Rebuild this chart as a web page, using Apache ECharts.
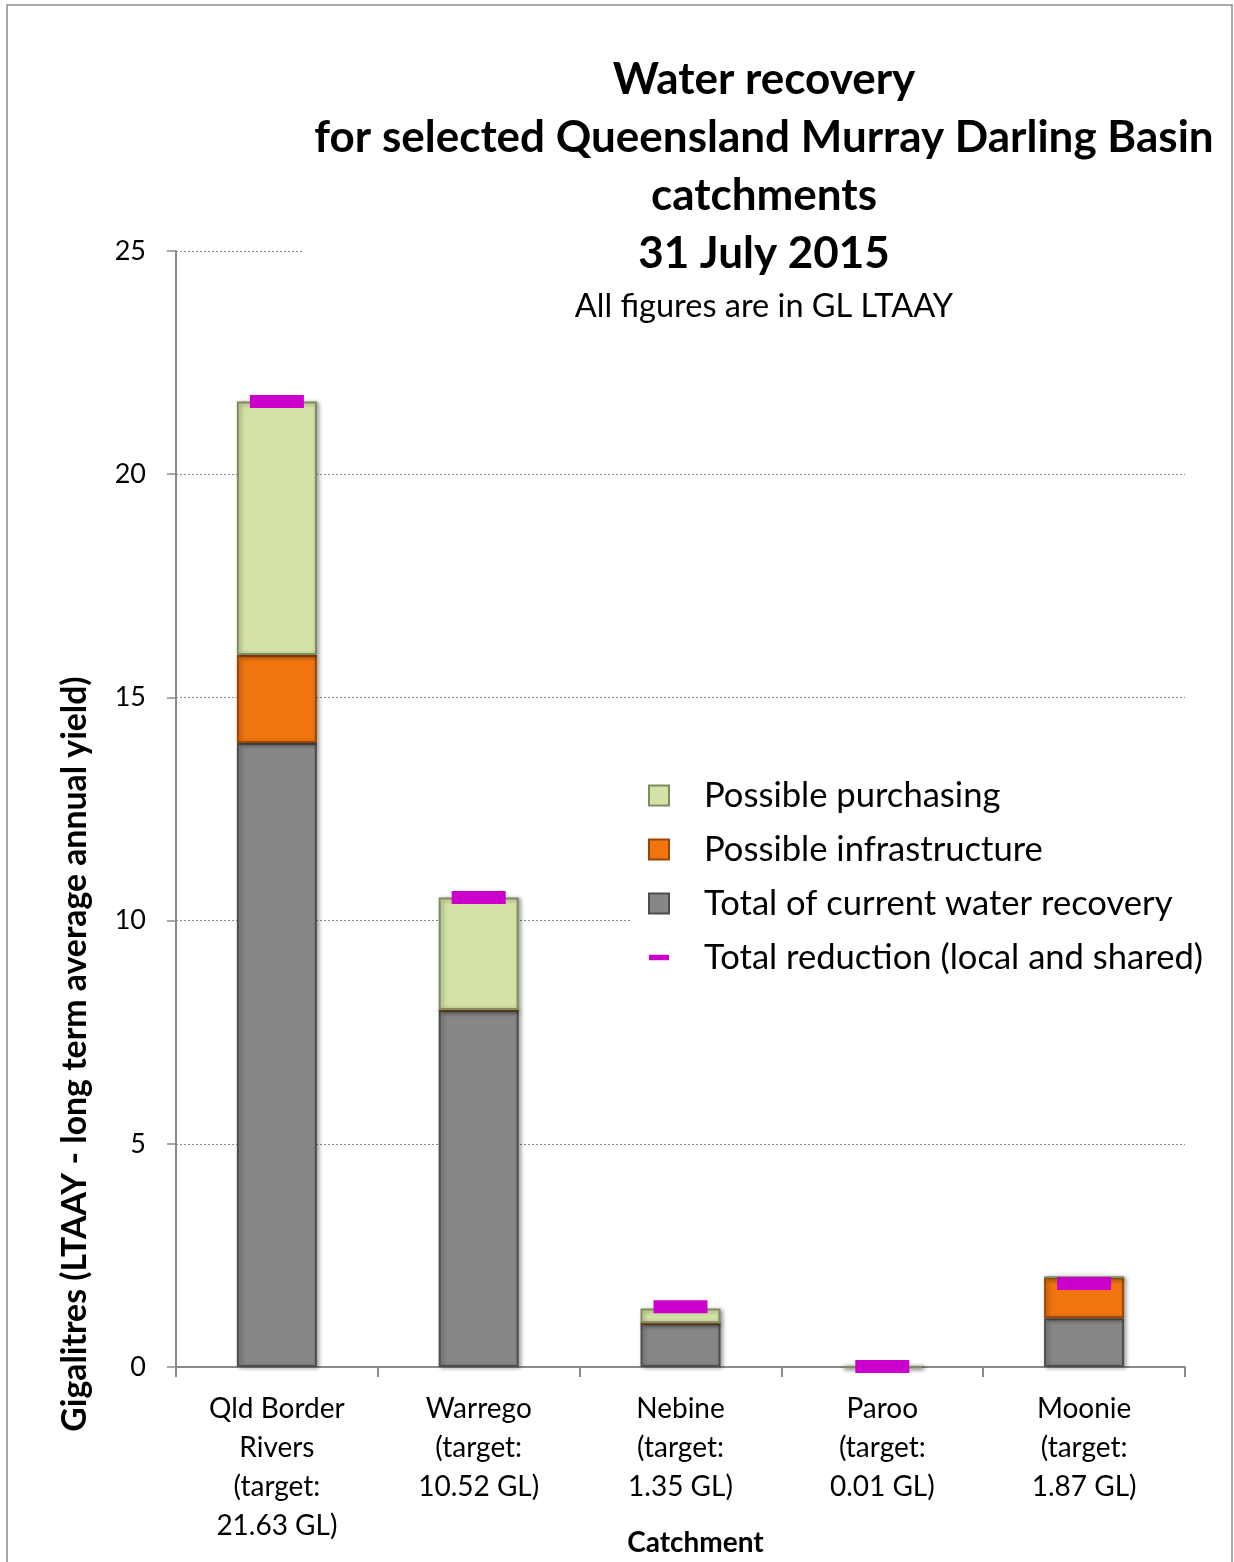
<!DOCTYPE html>
<html>
<head>
<meta charset="utf-8">
<script src="https://cdn.jsdelivr.net/npm/echarts@6/dist/echarts.min.js"></script>
<style>
  html, body { margin: 0; padding: 0; background: #fff; }
  #chart { width: 1234px; height: 1562px; }
</style>
</head>
<body>
<div id="chart"></div>
<script>
// Catchments (x axis) and stacked recovery components, in GL LTAAY
const catchments = [
  'Qld Border\nRivers\n(target:\n21.63 GL)',
  'Warrego\n(target:\n10.52 GL)',
  'Nebine\n(target:\n1.35 GL)',
  'Paroo\n(target:\n0.01 GL)',
  'Moonie\n(target:\n1.87 GL)'
];
const currentRecovery = [13.98, 8.0, 0.98, 0, 1.09];
const possibleInfrastructure = [1.97, 0, 0, 0, 0.92];
const possiblePurchasing = [5.68, 2.52, 0.33, 0, 0];
const totalReduction = [21.63, 10.52, 1.35, 0.01, 1.87];
const yTicks = [0, 5, 10, 15, 20, 25];

const FONT = 'Lato';

function barStyle(fill, edge) {
  return {
    color: fill,
    borderColor: edge,
    borderWidth: 2,
    shadowBlur: 4,
    shadowOffsetX: 2,
    shadowOffsetY: 1,
    shadowColor: 'rgba(0,0,0,0.35)'
  };
}

const chart = echarts.init(document.getElementById('chart'), null, { renderer: 'canvas' });

chart.setOption({
  backgroundColor: '#ffffff',
  animation: false,
  textStyle: { fontFamily: FONT },
  graphic: [{
    type: 'rect',
    shape: { x: 7, y: 5, width: 1225, height: 1570 },
    style: { fill: 'none', stroke: '#8c8c8c', lineWidth: 1.5 },
    z: 100
  }],
  title: {
    text: 'Water recovery\nfor selected Queensland Murray Darling Basin\ncatchments\n31 July 2015',
    subtext: 'All figures are in GL LTAAY',
    left: 752,
    top: 43,
    textAlign: 'center',
    backgroundColor: '#ffffff',
    padding: [8, 12, 8, 12],
    itemGap: 6,
    textStyle: { fontFamily: FONT, fontSize: 44, fontWeight: 'bold', color: '#000', lineHeight: 58 },
    subtextStyle: { fontFamily: FONT, fontSize: 32.5, color: '#000', lineHeight: 36 },
    z: 10
  },
  legend: {
    orient: 'vertical',
    left: 630,
    top: 770,
    backgroundColor: '#ffffff',
    padding: [8, 20, 8, 18],
    itemWidth: 20,
    itemHeight: 20,
    itemGap: 19,
    data: [
      { name: 'Possible purchasing', icon: 'rect' },
      { name: 'Possible infrastructure', icon: 'rect' },
      { name: 'Total of current water recovery', icon: 'rect' },
      { name: 'Total reduction (local and shared)', icon: 'path://M0,8L22,8L22,14L0,14Z' }
    ],
    textStyle: { fontFamily: FONT, fontSize: 34.6, color: '#000', padding: [0, 0, 0, 30] },
    z: 10
  },
  grid: { left: 176, right: 49, top: 251, bottom: 195, containLabel: false, outerBoundsMode: 'none' },
  xAxis: {
    type: 'category',
    data: catchments,
    boundaryGap: true,
    name: 'Catchment',
    nameLocation: 'middle',
    nameGap: 162,
    nameMoveOverlap: false,
    nameTextStyle: { fontFamily: FONT, fontSize: 28, fontWeight: 'bold', color: '#000', padding: [0, 0, 0, 30] },
    axisLine: { lineStyle: { color: '#8a8a8a', width: 2 } },
    axisTick: { show: true, alignWithLabel: false, length: 10, lineStyle: { color: '#8a8a8a', width: 2 } },
    axisLabel: { fontFamily: FONT, fontSize: 28, color: '#000', lineHeight: 39, margin: 22, interval: 0 }
  },
  yAxis: {
    type: 'value',
    min: yTicks[0],
    max: yTicks[yTicks.length - 1],
    interval: 5,
    name: 'Gigalitres (LTAAY - long term average annual yield)',
    nameLocation: 'middle',
    nameGap: 84,
    nameMoveOverlap: false,
    nameTextStyle: { fontFamily: FONT, fontSize: 33.8, fontWeight: 'bold', color: '#000', padding: [0, 490, 0, 0] },
    axisLine: { show: true, lineStyle: { color: '#8a8a8a', width: 2 } },
    axisTick: { show: true, length: 9, lineStyle: { color: '#8a8a8a', width: 1.5 } },
    axisLabel: { fontFamily: FONT, fontSize: 27, color: '#000', margin: 30 },
    splitLine: { show: true, lineStyle: { color: '#8a8a8a', type: [2, 2], width: 1 } }
  },
  series: [
    {
      name: 'Total of current water recovery',
      type: 'bar',
      stack: 'recovery',
      barWidth: 80,
      data: currentRecovery,
      itemStyle: barStyle('#878787', '#4d4d4d')
    },
    {
      name: 'Possible infrastructure',
      type: 'bar',
      stack: 'recovery',
      barWidth: 80,
      data: possibleInfrastructure,
      itemStyle: barStyle('#F0750F', '#9a4608')
    },
    {
      name: 'Possible purchasing',
      type: 'bar',
      stack: 'recovery',
      barWidth: 80,
      data: possiblePurchasing,
      itemStyle: barStyle('#D3E2A7', '#7f8c60')
    },
    {
      name: 'Total reduction (local and shared)',
      type: 'scatter',
      data: totalReduction,
      symbol: 'rect',
      symbolSize: [54, 13],
      itemStyle: { color: '#CC00CC', opacity: 1 },
      z: 5
    }
  ]
});
</script>
</body>
</html>
